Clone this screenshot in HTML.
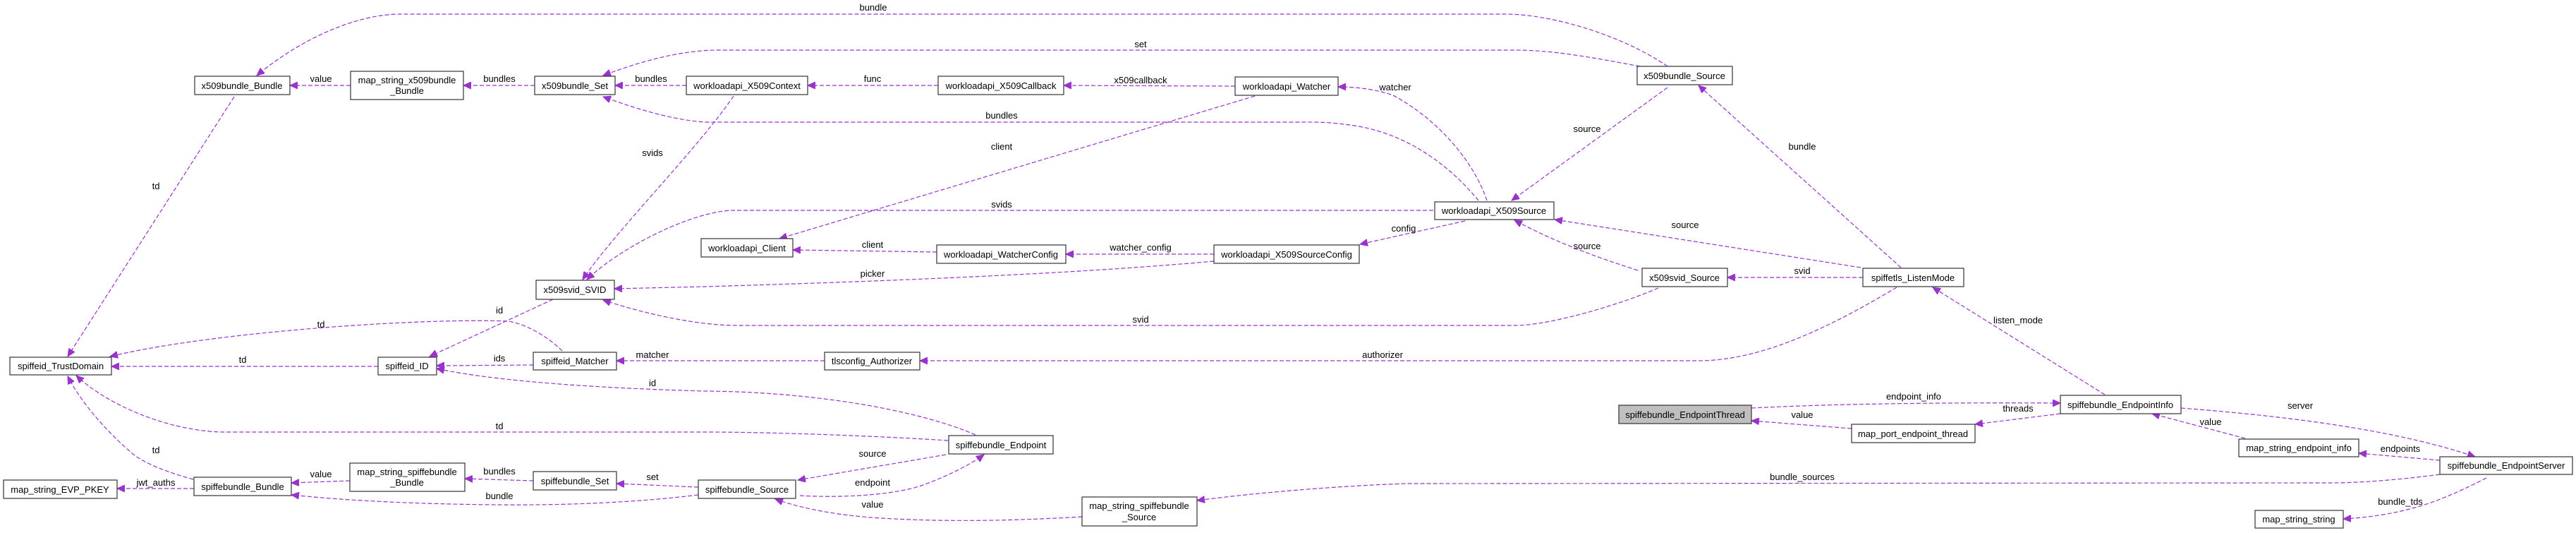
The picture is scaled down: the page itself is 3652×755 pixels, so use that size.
<!DOCTYPE html>
<html><head><meta charset="utf-8"><style>
html,body{margin:0;padding:0;background:#fff;}
svg{display:block;}
text{font-family:"Liberation Sans",Arial,sans-serif;font-size:13px;fill:#000;}
.e{fill:none;stroke:#9a32cd;stroke-width:1.2;stroke-dasharray:6,3;}
.n{fill:#fff;stroke:#333;stroke-width:1.2;}
</style></head><body>
<svg width="3652" height="755" viewBox="0 0 3652 755" xmlns="http://www.w3.org/2000/svg">
<defs><marker id="a" markerWidth="12" markerHeight="10" refX="11" refY="5" orient="auto" markerUnits="userSpaceOnUse"><path d="M0,0 L11,5 L0,10 z" fill="#9a32cd" stroke="#9a32cd"/></marker></defs>
<g marker-end="url(#a)">
<path class="e" d="M2364,94 C2300,50 2200,20 2134,20 L568,20 C500,20 420,60 364,107"/>
<path class="e" d="M2325,94 C2250,80 2200,71 2147,71 L1019,71 C960,71 900,90 855,107"/>
<path class="e" d="M497,121 L411,121"/>
<path class="e" d="M758,121 L872,121" style="display:none"/>
<path class="e" d="M758,121 L657,121"/>
<path class="e" d="M973,121 L872,121"/>
<path class="e" d="M1330,121 L1145,121"/>
<path class="e" d="M1751,122 L1508,121"/>
<path class="e" d="M2108,284 C2090,230 2040,170 1975,135 C1950,126 1920,123 1897,123"/>
<path class="e" d="M2096,284 C2060,240 2000,190 1920,178 C1880,172 1860,173 1842,173 L1000,173 C950,170 890,150 855,137"/>
<path class="e" d="M1040,136 C990,210 870,330 826,396"/>
<path class="e" d="M1779,136 L1105,338"/>
<path class="e" d="M2032,298 L1038,298 C980,300 880,350 832,396"/>
<path class="e" d="M2077,313 L1928,346"/>
<path class="e" d="M1328,357 L1124,354"/>
<path class="e" d="M1721,360 L1511,360"/>
<path class="e" d="M1721,370 C1500,390 1200,400 1000,406 L871,409"/>
<path class="e" d="M2364,124 L2143,284"/>
<path class="e" d="M2638,379 L2204,311"/>
<path class="e" d="M2322,383 C2250,360 2200,340 2147,312"/>
<path class="e" d="M2351,408 C2300,430 2200,461 2147,461 L1045,461 C980,461 900,440 855,425"/>
<path class="e" d="M2641,393 L2449,393"/>
<path class="e" d="M2695,379 L2408,121"/>
<path class="e" d="M2689,407 C2600,460 2500,511 2408,511 L1304,511"/>
<path class="e" d="M1169,511 L874,511"/>
<path class="e" d="M756,517 L619,518"/>
<path class="e" d="M784,424 L609,505"/>
<path class="e" d="M797,497 C780,480 750,460 721,455 C600,450 300,470 156,505"/>
<path class="e" d="M536,519 L158,519"/>
<path class="e" d="M1383,616 C1300,580 1150,555 1000,554 C850,550 700,540 619,522"/>
<path class="e" d="M1344,624 C1250,618 1100,612 1000,612 L319,612 C250,612 160,580 108,532"/>
<path class="e" d="M274,679 C240,670 200,655 185,640 C150,610 115,570 96,533"/>
<path class="e" d="M332,137 L96,505"/>
<path class="e" d="M275,692 L166,692"/>
<path class="e" d="M496,681 L413,684"/>
<path class="e" d="M756,681 L659,678"/>
<path class="e" d="M990,690 L874,685"/>
<path class="e" d="M990,701 C900,712 800,716 702,715 C600,714 500,710 413,701"/>
<path class="e" d="M1341,644 L1131,680"/>
<path class="e" d="M1134,702 C1200,706 1270,700 1306,688 C1350,672 1380,655 1395,644"/>
<path class="e" d="M1534,732 C1450,737 1350,740 1250,734 C1180,730 1130,718 1099,707"/>
<path class="e" d="M3459,672 C3400,680 3340,684 3308,684 L1995,685 C1900,688 1780,698 1697,709"/>
<path class="e" d="M2483,578 C2600,572 2750,570 2921,571"/>
<path class="e" d="M2921,586 L2800,601"/>
<path class="e" d="M2625,607 L2483,596"/>
<path class="e" d="M2984,559 L2740,407"/>
<path class="e" d="M3092,578 C3250,590 3400,610 3509,647"/>
<path class="e" d="M3183,621 L3051,586"/>
<path class="e" d="M3459,652 L3344,642"/>
<path class="e" d="M3525,677 C3480,700 3450,712 3420,720 C3390,728 3360,733 3322,735"/>
</g>
<g text-anchor="middle">
<text x="1238" y="15">bundle</text>
<text x="1617" y="67">set</text>
<text x="455" y="116">value</text>
<text x="708" y="116">bundles</text>
<text x="923" y="116">bundles</text>
<text x="1237" y="116">func</text>
<text x="1617" y="118">x509callback</text>
<text x="1978" y="128">watcher</text>
<text x="1420" y="168">bundles</text>
<text x="925" y="221">svids</text>
<text x="1420" y="212">client</text>
<text x="1420" y="294">svids</text>
<text x="1990" y="328">config</text>
<text x="1237" y="351">client</text>
<text x="1617" y="355">watcher_config</text>
<text x="1237" y="392">picker</text>
<text x="2250" y="187">source</text>
<text x="2389" y="323">source</text>
<text x="2250" y="353">source</text>
<text x="1617" y="457">svid</text>
<text x="2555" y="388">svid</text>
<text x="2555" y="212">bundle</text>
<text x="1960" y="507">authorizer</text>
<text x="925" y="507">matcher</text>
<text x="708" y="512">ids</text>
<text x="708" y="444">id</text>
<text x="455" y="464">td</text>
<text x="344" y="514">td</text>
<text x="925" y="547">id</text>
<text x="708" y="608">td</text>
<text x="221" y="642">td</text>
<text x="221" y="268">td</text>
<text x="221" y="688">jwt_auths</text>
<text x="455" y="676">value</text>
<text x="708" y="672">bundles</text>
<text x="925" y="680">set</text>
<text x="708" y="707">bundle</text>
<text x="1237" y="647">source</text>
<text x="1237" y="688">endpoint</text>
<text x="1237" y="719">value</text>
<text x="2555" y="680">bundle_sources</text>
<text x="2713" y="566">endpoint_info</text>
<text x="2861" y="583">threads</text>
<text x="2555" y="592">value</text>
<text x="2861" y="458">listen_mode</text>
<text x="3261" y="579">server</text>
<text x="3134" y="602">value</text>
<text x="3403" y="640">endpoints</text>
<text x="3403" y="715">bundle_tds</text>
</g>
<g>
<rect class="n" x="276" y="108" width="135" height="26"/>
<rect class="n" x="497" y="101" width="160" height="40"/>
<rect class="n" x="758" y="108" width="114" height="26"/>
<rect class="n" x="973" y="108" width="172" height="26"/>
<rect class="n" x="1330" y="108" width="178" height="26"/>
<rect class="n" x="1751" y="109" width="146" height="26"/>
<rect class="n" x="2321" y="94" width="135" height="26"/>
<rect class="n" x="2034" y="286" width="169" height="25"/>
<rect class="n" x="994" y="338" width="130" height="26"/>
<rect class="n" x="1328" y="347" width="183" height="26"/>
<rect class="n" x="1721" y="347" width="206" height="26"/>
<rect class="n" x="760" y="397" width="111" height="27"/>
<rect class="n" x="2328" y="380" width="121" height="26"/>
<rect class="n" x="2641" y="380" width="143" height="26"/>
<rect class="n" x="14" y="506" width="144" height="25"/>
<rect class="n" x="536" y="506" width="83" height="25"/>
<rect class="n" x="756" y="499" width="118" height="25"/>
<rect class="n" x="1169" y="499" width="135" height="25"/>
<rect class="n" x="1345" y="617" width="148" height="26"/>
<rect class="n" x="2295" y="574" width="188" height="26" style="fill:#bfbfbf"/>
<rect class="n" x="2625" y="601" width="175" height="26"/>
<rect class="n" x="2921" y="560" width="171" height="26"/>
<rect class="n" x="3174" y="622" width="170" height="25"/>
<rect class="n" x="3459" y="647" width="188" height="25"/>
<rect class="n" x="3197" y="723" width="125" height="25"/>
<rect class="n" x="5" y="680" width="161" height="26"/>
<rect class="n" x="275" y="676" width="138" height="26"/>
<rect class="n" x="496" y="656" width="163" height="40"/>
<rect class="n" x="756" y="668" width="118" height="26"/>
<rect class="n" x="990" y="680" width="138" height="26"/>
<rect class="n" x="1534" y="704" width="163" height="41"/>
</g>
<g text-anchor="middle">
<text x="343" y="126">x509bundle_Bundle</text>
<text x="577" y="118">map_string_x509bundle</text><text x="577" y="133">_Bundle</text>
<text x="815" y="126">x509bundle_Set</text>
<text x="1059" y="126">workloadapi_X509Context</text>
<text x="1419" y="126">workloadapi_X509Callback</text>
<text x="1824" y="127">workloadapi_Watcher</text>
<text x="2388" y="112">x509bundle_Source</text>
<text x="2118" y="303">workloadapi_X509Source</text>
<text x="1059" y="356">workloadapi_Client</text>
<text x="1419" y="365">workloadapi_WatcherConfig</text>
<text x="1824" y="365">workloadapi_X509SourceConfig</text>
<text x="815" y="415">x509svid_SVID</text>
<text x="2388" y="398">x509svid_Source</text>
<text x="2712" y="398">spiffetls_ListenMode</text>
<text x="86" y="523">spiffeid_TrustDomain</text>
<text x="577" y="523">spiffeid_ID</text>
<text x="815" y="516">spiffeid_Matcher</text>
<text x="1236" y="516">tlsconfig_Authorizer</text>
<text x="1419" y="635">spiffebundle_Endpoint</text>
<text x="2389" y="592">spiffebundle_EndpointThread</text>
<text x="2712" y="619">map_port_endpoint_thread</text>
<text x="3006" y="578">spiffebundle_EndpointInfo</text>
<text x="3259" y="639">map_string_endpoint_info</text>
<text x="3553" y="664">spiffebundle_EndpointServer</text>
<text x="3259" y="740">map_string_string</text>
<text x="85" y="698">map_string_EVP_PKEY</text>
<text x="344" y="694">spiffebundle_Bundle</text>
<text x="577" y="673">map_string_spiffebundle</text><text x="577" y="688">_Bundle</text>
<text x="815" y="686">spiffebundle_Set</text>
<text x="1059" y="698">spiffebundle_Source</text>
<text x="1615" y="721">map_string_spiffebundle</text><text x="1615" y="737">_Source</text>
</g>
</svg>
</body></html>
